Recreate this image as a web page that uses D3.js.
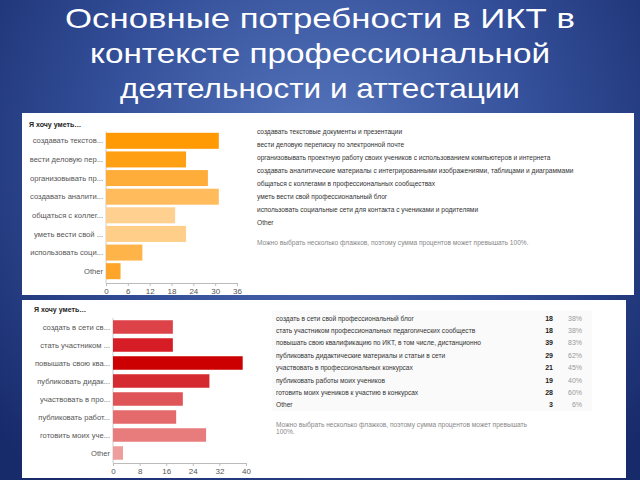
<!DOCTYPE html>
<html><head><meta charset="utf-8">
<script src="https://cdn.jsdelivr.net/npm/d3@7"></script>
<style>html,body{margin:0;padding:0;overflow:hidden;background:#1c2f72}</style>
</head><body>
<svg id="c" width="640" height="480"></svg>
<script>
const titleLines = ["Основные потребности в ИКТ в", "контексте профессиональной", "деятельности и аттестации"];
const question = "Я хочу уметь…";

const topShort = ["создавать текстов...", "вести деловую пер...", "организовывать пр...", "создавать аналити...", "общаться с коллег...", "уметь вести свой ...", "использовать соци...", "Other"];
const topFull = ["создавать текстовые документы и презентации", "вести деловую переписку по электронной почте", "организовывать проектную работу своих учеников с использованием компьютеров и интернета", "создавать аналитические материалы с интегрированными изображениями, таблицами и диаграммами", "общаться с коллегами в профессиональных сообществах", "уметь вести свой профессиональный блог", "использовать социальные сети для контакта с учениками и родителями", "Other"];
const topValues = [31, 22, 28, 31, 19, 22, 10, 4];
const topColors = ["#ff9a05", "#ff9f14", "#ffad3a", "#ffbb5c", "#ffd08f", "#ffcf8a", "#ffb449", "#ffa62a"];
const topTicks = [0, 6, 12, 18, 24, 30, 36];

const botShort = ["создать в сети св...", "стать участником ...", "повышать свою ква...", "публиковать дидак...", "участвовать в про...", "публиковать работ...", "готовить моих уче...", "Other"];
const botFull = ["создать в сети свой профессиональный блог", "стать участником профессиональных педагогических сообществ", "повышать свою квалификацию по ИКТ, в том числе, дистанционно", "публиковать дидактические материалы и статьи в сети", "участвовать в профессиональных конкурсах", "публиковать работы моих учеников", "готовить моих учеников к участию в конкурсах", "Other"];
const botValues = [18, 18, 39, 29, 21, 19, 28, 3];
const botPercents = ["38%", "38%", "83%", "62%", "45%", "40%", "60%", "6%"];
const botColors = ["#dc4248", "#d61c24", "#cc0000", "#d42a30", "#df5457", "#e46a6c", "#e87c7c", "#ee9c9c"];
const botTicks = [0, 8, 16, 24, 32, 40];

const note = "Можно выбрать несколько флажков, поэтому сумма процентов может превышать 100%.";
const note2a = "Можно выбрать несколько флажков, поэтому сумма процентов может превышать";
const note2b = "100%.";

const svg = d3.select("#c");
const F = "'Liberation Sans', Arial, sans-serif";

// background
const defs = svg.append("defs");
const rg = defs.append("radialGradient").attr("id", "bg").attr("gradientUnits", "userSpaceOnUse")
  .attr("cx", 320).attr("cy", 150).attr("r", 430);
rg.append("stop").attr("offset", "0").attr("stop-color", "#5676bd");
rg.append("stop").attr("offset", "0.5").attr("stop-color", "#34509a");
rg.append("stop").attr("offset", "1").attr("stop-color", "#172a6a");
svg.append("rect").attr("width", 640).attr("height", 480).attr("fill", "url(#bg)");

// title
const tw = [510, 460, 400];
const ty = [28, 63, 98];
titleLines.forEach((t, i) => {
  svg.append("text").attr("x", 320).attr("y", ty[i]).attr("text-anchor", "middle")
    .attr("textLength", tw[i]).attr("lengthAdjust", "spacingAndGlyphs")
    .attr("fill", "#ffffff").style("font-family", F).style("font-size", "28px").text(t);
});

function panel(cfg) {
  const g = svg.append("g");
  g.append("rect").attr("x", cfg.px).attr("y", cfg.py).attr("width", cfg.pw).attr("height", cfg.ph).attr("fill", "#ffffff");
  g.append("text").attr("x", cfg.qx).attr("y", cfg.qy).attr("fill", "#222").style("font-family", F)
    .style("font-size", "7px").style("font-weight", "bold").text(question);
  const x = d3.scaleLinear().domain([0, cfg.max]).range([cfg.x0, cfg.x1]);
  const y = d3.scaleBand().domain(cfg.short).range([cfg.y0, cfg.y1]).paddingInner(cfg.pad).paddingOuter(cfg.pad / 2);
  const ax = g.append("g").attr("transform", `translate(0,${cfg.axisY})`)
    .call(d3.axisBottom(x).tickValues(cfg.ticks).tickSize(3).tickPadding(2));
  ax.select(".domain").attr("stroke", "#bbb");
  ax.selectAll(".tick line").attr("stroke", "#bbb");
  ax.selectAll("text").attr("fill", "#555").style("font-family", F).style("font-size", "8px");
  g.append("line").attr("x1", cfg.x0).attr("x2", cfg.x0).attr("y1", cfg.y0).attr("y2", cfg.axisY).attr("stroke", "#ccc");
  g.selectAll("rect.bar").data(cfg.values).enter().append("rect").attr("class", "bar")
    .attr("x", x(0)).attr("y", (d, i) => y(cfg.short[i])).attr("width", d => x(d) - x(0))
    .attr("height", y.bandwidth()).attr("fill", (d, i) => cfg.colors[i]);
  g.selectAll("text.lab").data(cfg.short).enter().append("text").attr("class", "lab")
    .attr("x", cfg.x0 - 3).attr("y", d => y(d) + y.bandwidth() / 2).attr("dy", "0.35em")
    .attr("text-anchor", "end").attr("fill", "#555555").style("font-family", F).style("font-size", "7.6px").text(d => d);
  return g;
}

// top panel
const gt = panel({px: 22, py: 113, pw: 612, ph: 182, qx: 29, qy: 127, max: 36, x0: 106, x1: 237,
  y0: 131.5, y1: 280.5, pad: 0.14, axisY: 283, ticks: topTicks, short: topShort, values: topValues, colors: topColors});
topFull.forEach((t, i) => {
  gt.append("text").attr("x", 257).attr("y", 133.5 + i * 13.0).attr("fill", "#333")
    .style("font-family", F).style("font-size", "6.6px").text(t);
});
gt.append("text").attr("x", 257).attr("y", 244.5).attr("fill", "#888").style("font-family", F).style("font-size", "6.6px").text(note);

// bottom panel
const gb = panel({px: 22, py: 300, pw: 604, ph: 178, qx: 34, qy: 312, max: 40, x0: 113, x1: 246,
  y0: 318, y1: 462, pad: 0.25, axisY: 463, ticks: botTicks, short: botShort, values: botValues, colors: botColors});
gb.insert("rect", "text").attr("x", 272).attr("y", 311).attr("width", 320).attr("height", 100).attr("fill", "#fafafa");
botFull.forEach((t, i) => {
  const yy = 320.5 + i * 12.4;
  gb.append("text").attr("x", 276).attr("y", yy).attr("fill", "#333").style("font-family", F).style("font-size", "6.6px").text(t);
  gb.append("text").attr("x", 553).attr("y", yy).attr("text-anchor", "end").attr("fill", "#222")
    .style("font-family", F).style("font-size", "7px").style("font-weight", "bold").text(botValues[i]);
  gb.append("text").attr("x", 582).attr("y", yy).attr("text-anchor", "end").attr("fill", "#999")
    .style("font-family", F).style("font-size", "7px").text(botPercents[i]);
});
gb.append("text").attr("x", 276).attr("y", 426.5).attr("fill", "#888").style("font-family", F).style("font-size", "6.6px").text(note2a);
gb.append("text").attr("x", 276).attr("y", 434).attr("fill", "#888").style("font-family", F).style("font-size", "6.6px").text(note2b);
</script>
</body></html>
